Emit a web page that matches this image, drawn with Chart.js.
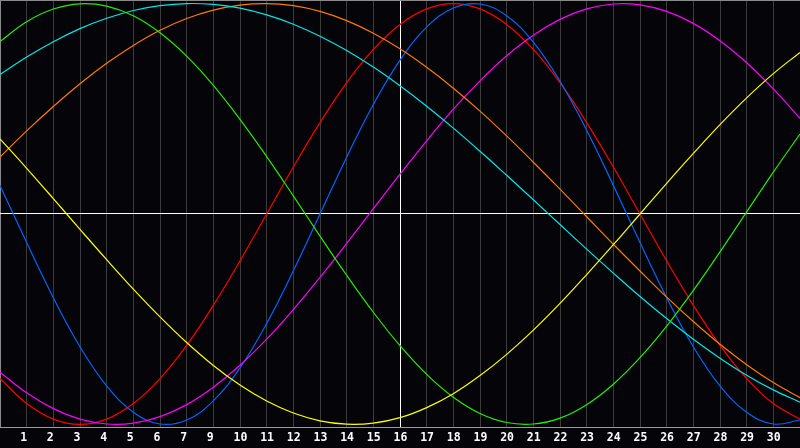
<!DOCTYPE html>
<html>
<head>
<meta charset="utf-8">
<script src="https://cdn.jsdelivr.net/npm/chart.js@4/dist/chart.umd.min.js"></script>
<style>
  html, body { margin: 0; padding: 0; background: #050409; }
  #wrap { width: 800px; height: 448px; position: relative; }
</style>
</head>
<body>
<div id="wrap"><canvas id="c" width="800" height="448"></canvas></div>
<script>
// x positions (days from the left edge)
const xDays = [0,1,2,3,4,5,6,7,8,9,10,11,12,13,14,15,16,17,18,19,20,21,22,23,24,25,26,27,28,29,30];
// tick labels, as printed under the chart (8 is missing in the original)
const dayLabels = ['1','2','3','4','5','6','7','9','10','11','12','13','14','15','16','17','18','19','20','21','22','23','24','25','26','27','28','29','30'];
const todayTick = 15;

const redValues = [-0.782,-0.901,-0.975,-1.000,-0.975,-0.901,-0.782,-0.624,-0.434,-0.223,0.000,0.223,0.434,0.624,0.782,0.901,0.975,1.000,0.975,0.901,0.782,0.624,0.434,0.223,0.000,-0.223,-0.434,-0.624,-0.782,-0.901,-0.975];
const blueValues = [0.136,-0.136,-0.398,-0.631,-0.817,-0.942,-0.998,-0.979,-0.888,-0.731,-0.520,-0.270,0.000,0.270,0.520,0.731,0.888,0.979,0.998,0.942,0.817,0.631,0.398,0.136,-0.136,-0.398,-0.631,-0.817,-0.942,-0.998,-0.979];
const greenValues = [0.820,0.914,0.974,0.999,0.988,0.942,0.861,0.750,0.611,0.450,0.273,0.086,-0.105,-0.291,-0.467,-0.626,-0.762,-0.871,-0.948,-0.991,-0.998,-0.970,-0.906,-0.809,-0.683,-0.533,-0.363,-0.180,0.010,0.199,0.380];
const cyanValues = [0.663,0.746,0.819,0.881,0.930,0.967,0.990,1.000,0.996,0.978,0.946,0.902,0.845,0.777,0.698,0.609,0.512,0.408,0.298,0.184,0.068,-0.050,-0.167,-0.281,-0.392,-0.497,-0.595,-0.685,-0.766,-0.836,-0.894];
const orangeValues = [0.271,0.395,0.511,0.619,0.716,0.801,0.873,0.929,0.969,0.993,1.000,0.990,0.963,0.919,0.859,0.785,0.697,0.598,0.489,0.371,0.246,0.118,-0.013,-0.144,-0.271,-0.395,-0.511,-0.619,-0.716,-0.801,-0.873];
const magentaValues = [-0.752,-0.850,-0.925,-0.975,-0.998,-0.994,-0.963,-0.906,-0.823,-0.719,-0.595,-0.454,-0.301,-0.140,0.025,0.189,0.348,0.498,0.633,0.752,0.850,0.925,0.975,0.998,0.994,0.963,0.906,0.823,0.719,0.595,0.454];
const yellowValues = [0.357,0.217,0.073,-0.073,-0.217,-0.357,-0.489,-0.611,-0.720,-0.813,-0.889,-0.946,-0.983,-0.999,-0.994,-0.968,-0.920,-0.854,-0.768,-0.667,-0.552,-0.425,-0.288,-0.146,0.000,0.146,0.288,0.425,0.552,0.667,0.768];

const seriesList = [
  { values: yellowValues,  color: '#ffff00' },
  { values: greenValues,   color: '#22ee00' },
  { values: cyanValues,    color: '#00e8e8' },
  { values: orangeValues,  color: '#ff7a00' },
  { values: magentaValues, color: '#ff00ff' },
  { values: blueValues,    color: '#0066ff' },
  { values: redValues,     color: '#ff0000' }
];

const bgPlugin = {
  id: 'bg',
  beforeDraw(chart) {
    const ctx = chart.ctx;
    ctx.save();
    ctx.fillStyle = '#050409';
    ctx.fillRect(0, 0, chart.width, chart.height);
    ctx.restore();
  }
};

const yLim = 1.017;

new Chart(document.getElementById('c'), {
  type: 'line',
  data: {
    datasets: seriesList.map(s => ({
      data: s.values.map((v, i) => ({ x: xDays[i], y: v })),
      borderColor: s.color,
      borderWidth: 1.2,
      pointRadius: 0,
      tension: 0.4,
      fill: false
    }))
  },
  options: {
    responsive: false,
    animation: false,
    devicePixelRatio: 1,
    layout: { padding: 0 },
    plugins: { legend: { display: false }, tooltip: { enabled: false } },
    scales: {
      x: {
        type: 'linear',
        min: xDays[0],
        max: xDays[xDays.length - 1],
        afterBuildTicks: axis => { axis.ticks = xDays.map(v => ({ value: v })); },
        grid: {
          drawTicks: false,
          lineWidth: 1,
          color: ctx => {
            const v = ctx.tick ? ctx.tick.value : -1;
            if (v === xDays[0]) return '#8a8a8a';
            if (v === todayTick) return '#ffffff';
            if (v === xDays[xDays.length - 1]) return 'rgba(0,0,0,0)';
            return '#3c3c3c';
          }
        },
        border: { display: true, color: '#9a9a9a', width: 1 },
        ticks: {
          autoSkip: false,
          maxRotation: 0,
          minRotation: 0,
          align: 'start',
          labelOffset: -6.5,
          padding: 0,
          color: '#ffffff',
          font: { family: 'DejaVu Sans Mono', size: 11.5, weight: 'bold', lineHeight: 1.74 },
          callback: (value) => (value >= 1 && value <= dayLabels.length) ? dayLabels[value - 1] : ''
        }
      },
      y: {
        type: 'linear',
        min: -yLim,
        max: yLim,
        afterBuildTicks: axis => { axis.ticks = [{ value: -yLim }, { value: 0 }, { value: yLim }]; },
        grid: {
          drawTicks: false,
          lineWidth: 1,
          color: ctx => (ctx.tick && ctx.tick.value === 0) ? '#ffffff' : '#8a8a8a'
        },
        border: { display: false },
        ticks: { display: false }
      }
    }
  },
  plugins: [bgPlugin]
});
</script>
</body>
</html>
